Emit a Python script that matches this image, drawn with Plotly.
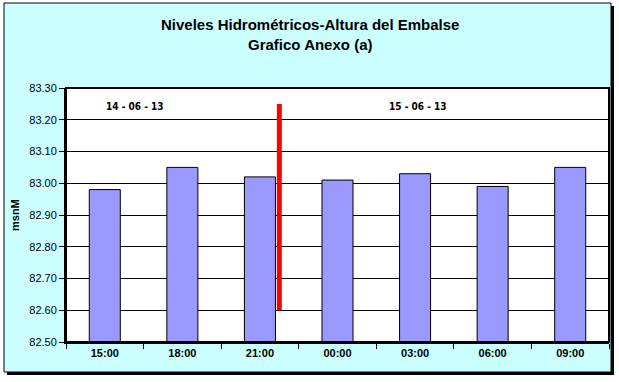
import plotly.graph_objects as go

categories = ["15:00", "18:00", "21:00", "00:00", "03:00", "06:00", "09:00"]
levels = [82.98, 83.05, 83.02, 83.01, 83.03, 82.99, 83.05]
y_ticks = [82.50, 82.60, 82.70, 82.80, 82.90, 83.00, 83.10, 83.20, 83.30]
day_labels = ["14 - 06 - 13", "15 - 06 - 13"]
day_label_x = [0.39, 4.04]
day_label_y = 83.243
divider_x = 2.25
divider_y = [82.60, 83.25]

W, H = 619, 382
ml, mr, mt, mb = 66, 10, 88, 40
pw, ph = W - ml - mr, H - mt - mb

def px(xp):
    return (xp - ml) / pw

def py(yp):
    return (H - mb - yp) / ph

fig = go.Figure()
fig.add_trace(go.Bar(
    x=list(range(len(categories))), y=[v - y_ticks[0] for v in levels], base=y_ticks[0],
    width=0.4, marker=dict(color="#9999FF", line=dict(color="black", width=1)),
    hoverinfo="skip",
))

shapes = [
    # shadow
    dict(type="rect", xref="paper", yref="paper", x0=px(7), x1=px(614), y0=py(375), y1=py(6),
         fillcolor="black", line=dict(width=0), layer="below"),
    # chart area
    dict(type="rect", xref="paper", yref="paper", x0=px(4), x1=px(611), y0=py(372), y1=py(3),
         fillcolor="#CCFFFF", line=dict(color="black", width=1), layer="below"),
    # plot area
    dict(type="rect", xref="paper", yref="paper", x0=0, x1=1, y0=0, y1=1,
         fillcolor="white", line=dict(width=0), layer="below"),
    # divider
    dict(type="line", xref="x", yref="y", x0=divider_x, x1=divider_x, y0=divider_y[0], y1=divider_y[1],
         line=dict(color="#FF0000", width=5), layer="above"),
    # plot border
    dict(type="rect", xref="paper", yref="paper", x0=0, x1=1, y0=0, y1=1,
         line=dict(color="black", width=2), layer="above"),
]

title_font = dict(family="Liberation Sans, Arial", size=15, color="black")
annotations = [
    dict(text="<b>Niveles Hidrométricos-Altura del Embalse</b>", xref="paper", yref="paper",
         x=px(310), y=py(24), xanchor="center", yanchor="middle", showarrow=False, font=title_font),
    dict(text="<b>Grafico Anexo (a)</b>", xref="paper", yref="paper",
         x=px(310), y=py(44), xanchor="center", yanchor="middle", showarrow=False, font=title_font),
    dict(text="<b>msnM</b>", xref="paper", yref="paper", x=px(15), y=py(215), textangle=-90,
         xanchor="center", yanchor="middle",
         showarrow=False, font=dict(family="Liberation Sans, Arial", size=11, color="black")),
]
for lbl, lx in zip(day_labels, day_label_x):
    annotations.append(dict(text="<b>" + lbl + "</b>", x=lx, y=day_label_y, xref="x", yref="y",
                            xanchor="center", yanchor="middle", showarrow=False,
                            font=dict(family="DejaVu Sans Condensed, Liberation Sans Narrow, Arial Narrow, Arial",
                                      size=10, color="black")))

fig.update_layout(
    width=W, height=H, margin=dict(l=ml, r=mr, t=mt, b=mb),
    paper_bgcolor="white", plot_bgcolor="rgba(0,0,0,0)",
    showlegend=False, bargap=0.6,
    shapes=shapes, annotations=annotations,
    xaxis=dict(
        tickmode="array", tickvals=list(range(len(categories))),
        ticktext=["<b>" + c + "</b>" for c in categories],
        range=[-0.5, len(categories) - 0.5], showgrid=False, zeroline=False,
        ticks="", showline=True, linecolor="black", linewidth=2,
        tickfont=dict(family="Liberation Sans, Arial", size=11, color="black"),
        minor=dict(tickmode="array", tickvals=[i + 0.5 for i in range(-1, len(categories))],
                   ticks="outside", ticklen=5, tickcolor="black", tickwidth=1),
    ),
    yaxis=dict(
        range=[y_ticks[0], y_ticks[-1]], tickvals=y_ticks, tickformat=".2f",
        showgrid=True, gridcolor="black", gridwidth=1, zeroline=False,
        ticks="outside", ticklen=5, tickcolor="black",
        showline=True, linecolor="black", linewidth=2,
        tickfont=dict(family="Liberation Sans, Arial", size=11, color="black"),
    ),
)

fig.write_html("out.html", config={"displayModeBar": False},
               post_script="document.body.style.margin='0';document.body.style.overflow='hidden';")
